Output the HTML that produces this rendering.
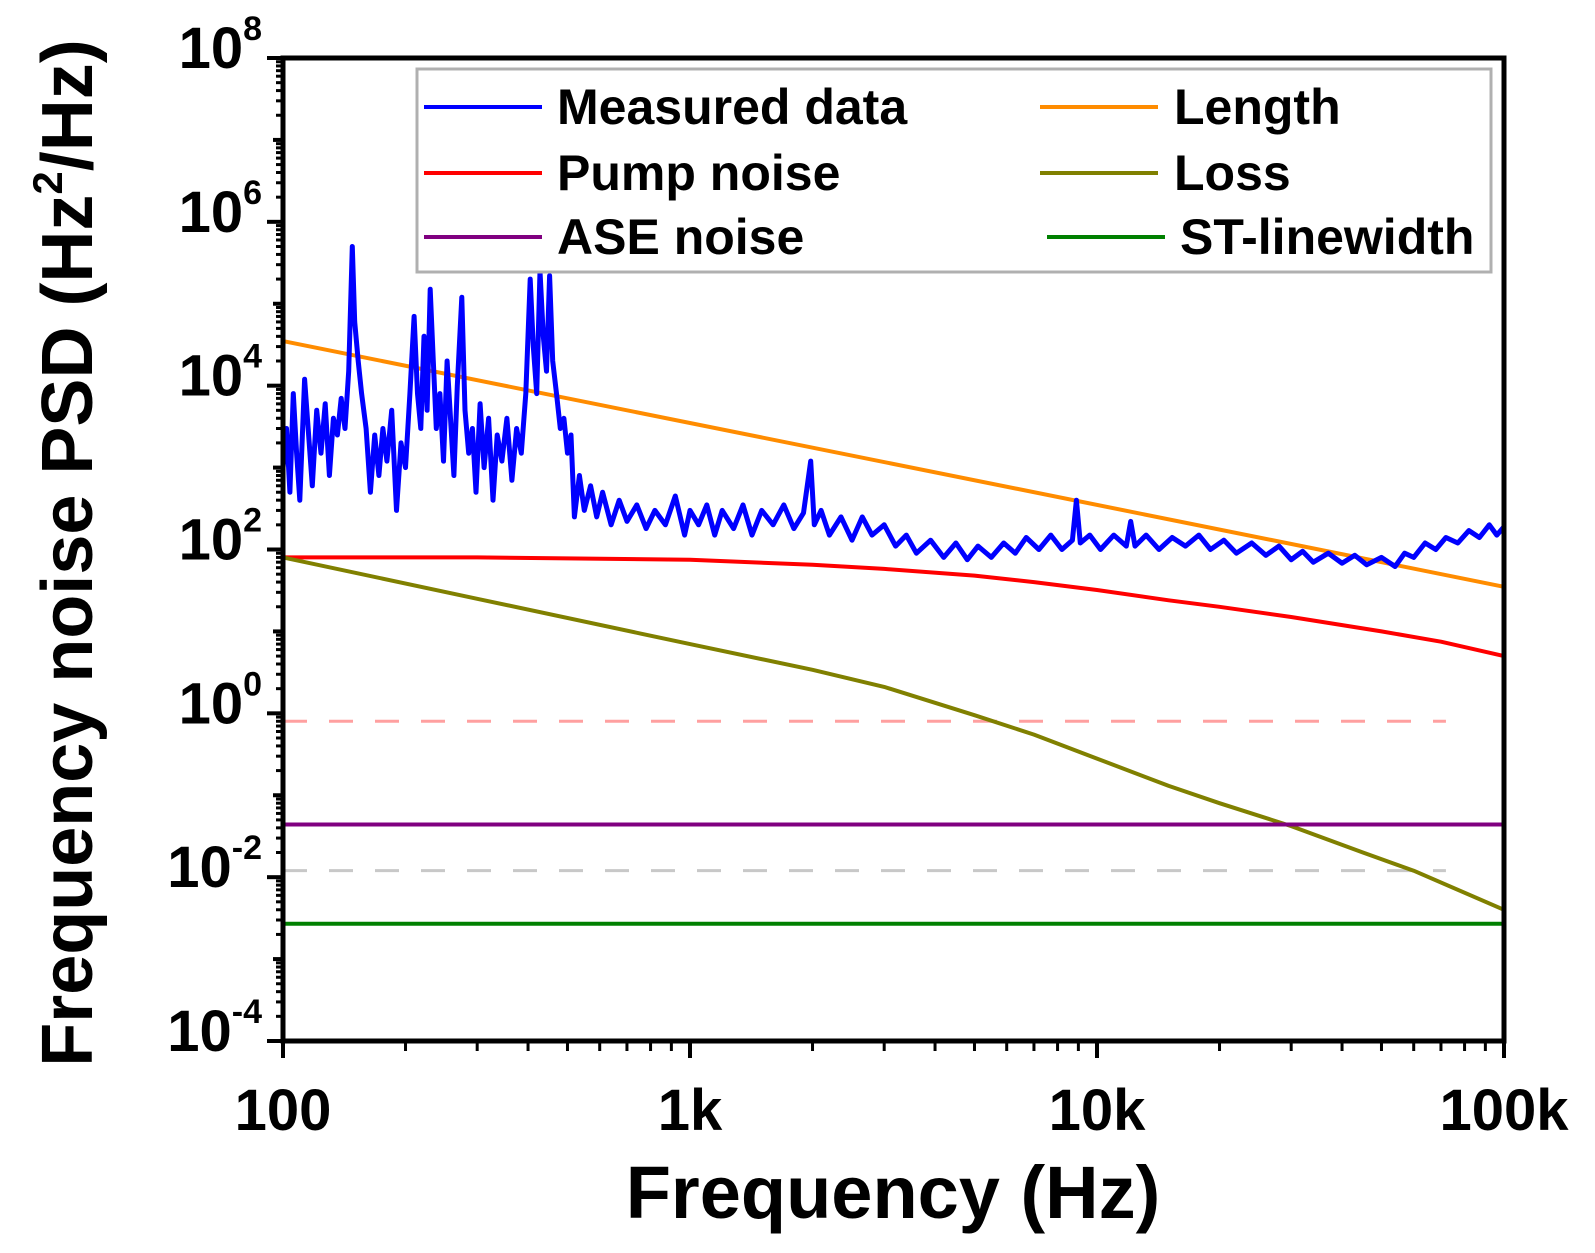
<!DOCTYPE html>
<html><head><meta charset="utf-8"><style>
html,body{margin:0;padding:0;background:#fff}
svg{display:block;font-family:"Liberation Sans",Arial,sans-serif;font-weight:bold}
</style></head><body>
<svg id="chart" width="1595" height="1253" viewBox="0 0 1595 1253">
<g id="grid"></g><g id="series"></g><g id="axes"></g><g id="legend"></g>
</svg>
<script>
const measuredFreq=[100,102,104,106,108,110,113,116,118,121,124,127,130,133,136,139,142,145,148,150,153,156,160,164,168,172,176,180,185,190,195,200,205,210,214,218,222,226,230,234,238,243,248,253,258,263,268,275,280,286,292,298,305,312,320,328,336,345,355,365,375,385,395,405,412,420,428,436,444,452,460,470,480,490,500,510,520,535,550,570,590,610,640,670,700,740,780,820,870,920,970,1000,1050,1100,1150,1200,1280,1350,1420,1500,1600,1700,1800,1900,1980,2020,2100,2200,2350,2500,2650,2800,3000,3200,3400,3600,3900,4200,4500,4800,5100,5500,5900,6300,6700,7200,7700,8200,8700,8900,9100,9600,10200,11000,11800,12100,12400,13200,14200,15300,16500,17800,19000,20500,22000,24000,26000,28000,30000,32000,34000,37000,40000,43000,46000,50000,54000,57000,60000,64000,68000,72000,77000,82000,87000,92000,96000,100000];
const measuredPsd=[1000,3000,500,8000,1500,400,12000,2000,600,5000,1500,6000,800,4000,2500,7000,3000,15000,500000,60000,20000,8000,3000,500,2500,800,3000,1200,5000,300,2000,1000,8000,70000,8000,3000,40000,5000,150000,20000,3000,8000,1200,20000,4000,800,10000,120000,5000,1500,3000,500,6000,1000,4000,400,2500,1200,4000,700,3000,1500,8000,200000,30000,8000,250000,40000,15000,220000,20000,8000,3000,4000,1500,2500,250,800,300,600,250,500,200,400,220,350,180,300,200,450,150,300,200,350,150,300,180,350,150,300,200,350,180,280,1200,200,300,150,250,130,250,150,200,110,150,90,130,80,120,75,110,80,120,90,140,100,150,100,130,400,120,150,100,150,110,220,110,150,100,140,110,150,100,130,90,120,85,110,75,95,70,90,68,85,65,80,62,90,80,120,100,140,120,170,140,200,150,190];
const lengthFreq=[100,100000];
const lengthPsd=[35000,35];
const pumpFreq=[100,300,1000,2000,3000,5000,7000,10000,15000,20000,30000,50000,70000,100000];
const pumpPsd=[80,80,75,65,58,48,40,32,24,20,15,10,7.5,5];
const lossFreq=[100,300,1000,2000,3000,5000,7000,10000,15000,20000,30000,45000,60000,100000];
const lossPsd=[80,25,7,3.4,2.1,0.95,0.55,0.28,0.13,0.08,0.042,0.02,0.012,0.004];
const aseLevel=[0.044];
const stLevel=[0.0027];
const pinkDashLevel=[0.8];
const grayDashLevel=[0.012];
const yTickExp=[8,6,4,2,0,-2,-4];
const xTickVals=[100,1000,10000,100000];
const xTickLabels=["100","1k","10k","100k"];

const L=283,R=1504,T=58,B=1041;
const xs=f=>L+(Math.log10(f)-2)/3*(R-L);
const ys=v=>T+(8-Math.log10(v))/12*(B-T);
const NS="http://www.w3.org/2000/svg";
function mk(tag,attrs,parent){const e=document.createElementNS(NS,tag);for(const k in attrs)e.setAttribute(k,attrs[k]);parent.appendChild(e);return e;}
const G=document.getElementById('series'),A=document.getElementById('axes'),LG=document.getElementById('legend');

function line(fr,vals,color,w,name){
  const d=fr.map((f,i)=>(i?'L':'M')+xs(f).toFixed(1)+' '+ys(vals[i]).toFixed(1)).join(' ');
  const p=mk('path',{d:d,fill:'none',stroke:color,'stroke-width':w,'stroke-linejoin':'round'},G);
  
  
}
function hline(v,x2f,color,w,dash,name){
  const p=mk('line',{x1:L,x2:xs(x2f),y1:ys(v),y2:ys(v),stroke:color,'stroke-width':w},G);
  if(dash)p.setAttribute('stroke-dasharray',dash);
  
  
}
hline(pinkDashLevel[0],72000,'#ffa0a0',3,'24 22','pink-dashed-reference');
hline(grayDashLevel[0],72000,'#c8c8c8',3,'24 22','gray-dashed-reference');
line(lengthFreq,lengthPsd,'#ff8c00',4,'length-line');
line(pumpFreq,pumpPsd,'#ff0000',4,'pump-noise-line');
line(lossFreq,lossPsd,'#808000',4,'loss-line');
hline(aseLevel[0],100000,'#800080',4,null,'ase-noise-line');
hline(stLevel[0],100000,'#008000',4,null,'st-linewidth-line');
line(measuredFreq,measuredPsd,'#0000ff',5,'measured-data-line');

const fr=mk('rect',{x:L,y:T,width:R-L,height:B-T,fill:'none',stroke:'#000','stroke-width':5},A);


for(let e=-4;e<=8;e++){
  const y=ys(Math.pow(10,e));
  const t=mk('line',{x1:L-(e%2===0?16:10),x2:L,y1:y,y2:y,stroke:'#000','stroke-width':4},A);
  
  
  if(e<8)for(let m=2;m<10;m++){const ym=ys(m*Math.pow(10,e));
    const mt=mk('line',{x1:L-7,x2:L,y1:ym,y2:ym,stroke:'#000','stroke-width':3},A);
    
    }
}
yTickExp.forEach(e=>{
  const y=ys(Math.pow(10,e));
  const t=mk('text',{x:262,y:y+10,'text-anchor':'end','font-size':58},A);
  t.innerHTML='10<tspan font-size="34" dy="-28">'+e+'</tspan>';
  
  
});
for(let e=2;e<=5;e++){
  const x=xs(Math.pow(10,e));
  const t=mk('line',{x1:x,x2:x,y1:B,y2:B+17,stroke:'#000','stroke-width':4},A);
  
  
  if(e<5)for(let m=2;m<10;m++){const xm=xs(m*Math.pow(10,e));
    const mt=mk('line',{x1:xm,x2:xm,y1:B,y2:B+10,stroke:'#000','stroke-width':3},A);
    
    }
}
xTickVals.forEach((v,i)=>{
  const t=mk('text',{x:xs(v),y:1130,'text-anchor':'middle','font-size':58},A);
  t.textContent=xTickLabels[i];
  
  
});
const xt=mk('text',{x:893,y:1218,'text-anchor':'middle','font-size':74},A);
xt.textContent='Frequency (Hz)';


const yt=mk('text',{x:0,y:0,'text-anchor':'middle','font-size':72,transform:'translate(92,553) rotate(-90)'},A);
yt.innerHTML='Frequency noise PSD (Hz<tspan font-size="42" dy="-30">2</tspan><tspan dy="30">/Hz)</tspan>';



const lb=mk('rect',{x:417,y:69,width:1074,height:203,fill:'#fff',stroke:'#b0b0b0','stroke-width':3},LG);


const entries=[['Measured data','#0000ff',424,557,107],['Pump noise','#ff0000',424,557,173],['ASE noise','#800080',424,557,237],
['Length','#ff8c00',1040,1174,107],['Loss','#808000',1040,1174,173],['ST-linewidth','#008000',1047,1180,237]];
entries.forEach(en=>{
  const g=mk('g',{},LG);
  
  
  mk('line',{x1:en[2],x2:en[2]+118,y1:en[4],y2:en[4],stroke:en[1],'stroke-width':4},g);
  const t=mk('text',{x:en[3],y:en[4]+17,'font-size':50},g);
  t.textContent=en[0];
});
</script>
</body></html>
